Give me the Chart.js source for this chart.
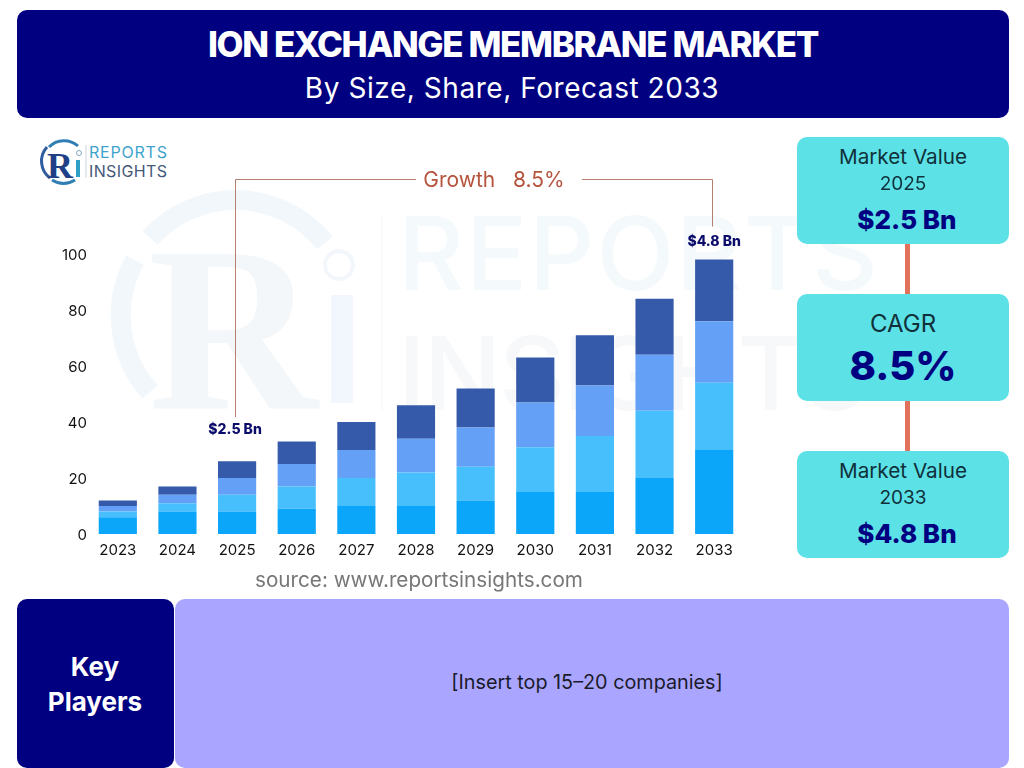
<!DOCTYPE html>
<html><head><meta charset="utf-8">
<script src="https://cdn.jsdelivr.net/npm/chart.js@4"></script>
<style>
html,body{margin:0;padding:0;background:#fff;width:1024px;height:768px;overflow:hidden;font-family:Inter,sans-serif}
.a{position:absolute}
.t{position:absolute;white-space:nowrap;text-align:center;transform:translate(-50%,-50%)}
.card{position:absolute;left:797px;width:212px;height:107px;background:#5CE1E6;border-radius:10px}
.conn{position:absolute;left:905px;width:5px;background:#E2725B}
canvas{position:absolute;left:0;top:130px}
</style></head><body>
<svg class="a" style="left:0;top:0" width="1024" height="768">
  <g fill="none" stroke="#F2F7FB" stroke-width="20">
    <path d="M150 392 A115 115 0 0 1 135 260"/>
    <path d="M150 238 A115 115 0 0 1 325 243"/>
  </g>
  <text x="148" y="408" font-family="Liberation Serif" font-size="235" font-weight="700" fill="#F4F7FA">R</text>
  <rect x="331" y="295" width="22" height="108" fill="#F1F7FC"/>
  <circle cx="339" cy="265" r="14" fill="none" stroke="#F3F7FB" stroke-width="4"/>
  <rect x="381" y="215" width="2" height="195" fill="#F7F9FB"/>
  <text x="398" y="290" font-family="Inter" font-size="102" font-weight="500" fill="#F4F9FC" textLength="480">REPORTS</text>
  <text x="398" y="410" font-family="Inter" font-size="102" font-weight="500" fill="#F6F8FA" textLength="470">INSIGHTS</text>
  <g fill="none" stroke-width="3">
    <path d="M50 178 A21 21 0 0 1 47 147" stroke="#2F5C9E"/>
    <path d="M49 147 A21 21 0 0 1 78 146" stroke="#2F7FB5"/>
    <path d="M52 180 A21 21 0 0 0 75 180" stroke="#2F7FB5"/>
  </g>
  <text x="47" y="178" font-family="Liberation Serif" font-size="36" font-weight="700" fill="#1F3F86">R</text>
  <rect x="76" y="160" width="4" height="17" fill="#2F9FC4"/>
  <circle cx="79" cy="153" r="2.5" fill="none" stroke="#7FA8C0" stroke-width="1"/>
  <rect x="85.5" y="145" width="1" height="33" fill="#C9D6E0"/>
  <text x="89" y="158" font-family="Inter" font-size="16" fill="#3FA3CC" textLength="78">REPORTS</text>
  <text x="89" y="177" font-family="Inter" font-size="16" fill="#46587A" textLength="78">INSIGHTS</text>
</svg>

<div class="a" style="left:17px;top:10px;width:992px;height:108px;background:#000080;border-radius:10px"></div>
<div class="t" style="left:513px;top:44px;color:#fff;font-size:35px;font-weight:800;letter-spacing:-1.4px">ION EXCHANGE MEMBRANE MARKET</div>
<div class="t" style="left:512px;top:88px;color:#fff;font-size:28px;font-weight:400;letter-spacing:.55px">By Size, Share, Forecast 2033</div>

<canvas id="c" width="790" height="465" style="width:790px;height:465px"></canvas>

<div class="t" style="left:419px;top:579px;color:#777;font-size:20.7px">source: www.reportsinsights.com</div>
<div class="t" style="left:494px;top:179px;color:#B5533C;font-size:21px;white-space:pre">Growth   8.5%</div>

<div class="conn" style="top:244px;height:50px"></div>
<div class="conn" style="top:401px;height:50px"></div>
<div class="card" style="top:137px"></div>
<div class="card" style="top:294px"></div>
<div class="card" style="top:451px"></div>
<div class="t" style="left:903px;top:156px;font-size:20.7px;color:#10303a">Market Value</div>
<div class="t" style="left:903px;top:183px;font-size:19px;color:#10303a">2025</div>
<div class="t" style="left:907px;top:219px;font-size:26px;font-weight:800;color:#000080">$2.5 Bn</div>
<div class="t" style="left:903px;top:323px;font-size:24px;color:#10303a">CAGR</div>
<div class="t" style="left:903px;top:365px;font-size:40px;font-weight:800;color:#000080">8.5%</div>
<div class="t" style="left:903px;top:470px;font-size:20.7px;color:#10303a">Market Value</div>
<div class="t" style="left:903px;top:497px;font-size:19px;color:#10303a">2033</div>
<div class="t" style="left:907px;top:533px;font-size:26px;font-weight:800;color:#000080">$4.8 Bn</div>

<div class="a" style="left:175px;top:599px;width:834px;height:169px;background:#AAA6FF;border-radius:10px"></div>
<div class="a" style="left:17px;top:599px;width:157px;height:169px;background:#000080;border-radius:10px"></div>
<div class="t" style="left:95px;top:684px;color:#fff;font-size:26px;font-weight:700;line-height:35px">Key<br>Players</div>
<div class="t" style="left:587px;top:682px;color:#1a1a2a;font-size:19.8px">[Insert top 15–20 companies]</div>

<script>
const years = ['2023','2024','2025','2026','2027','2028','2029','2030','2031','2032','2033'];
const seriesA = [6,8,8,9,10,10,12,15,15,20,30];
const seriesB = [2,3,6,8,10,12,12,16,20,24,24];
const seriesC = [2,3,6,8,10,12,14,16,18,20,22];
const seriesD = [2,3,6,8,10,12,14,16,18,20,22];
const seriesColors = ['#0BA5F9','#48BFFD','#64A0F6','#355AA9'];
const startYear = '2025', endYear = '2033';
const startLabel = '$2.5 Bn', endLabel = '$4.8 Bn';

const growthPlugin = {
  id:'growth',
  afterDatasetsDraw(ch){
    const {ctx,scales:{x,y}} = ch;
    const total = i => seriesA[i]+seriesB[i]+seriesC[i]+seriesD[i];
    const xs = x.getPixelForValue(years.indexOf(startYear));
    const xe = x.getPixelForValue(years.indexOf(endYear));
    const ys = y.getPixelForValue(total(years.indexOf(startYear)));
    const ye = y.getPixelForValue(total(years.indexOf(endYear)));
    const lineTop = 49.5;
    ctx.save();
    ctx.strokeStyle='#B5806F'; ctx.lineWidth=1;
    ctx.beginPath();
    ctx.moveTo(Math.round(xs)-1.5,ys-44); ctx.lineTo(Math.round(xs)-1.5,lineTop); ctx.lineTo(416,lineTop);
    ctx.moveTo(582,lineTop); ctx.lineTo(Math.round(xe)-1.5,lineTop); ctx.lineTo(Math.round(xe)-1.5,ye-33);
    ctx.stroke();
    ctx.fillStyle='#0B0B6B'; ctx.font='800 14px Inter'; ctx.textAlign='center'; ctx.textBaseline='middle';
    ctx.fillText(startLabel,xs-2,ys-31);
    ctx.fillText(endLabel,xe,ye-18);
    ctx.restore();
  }
};

new Chart(document.getElementById('c'),{
  type:'bar',
  data:{labels:years,datasets:[seriesA,seriesB,seriesC,seriesD].map((d,i)=>({
    label:'S'+(i+1),data:d,backgroundColor:seriesColors[i],borderWidth:0,
    barPercentage:0.8,categoryPercentage:0.8
  }))},
  options:{
    responsive:false,animation:false,
    layout:{padding:{top:124,right:46,bottom:31,left:0}},
    plugins:{legend:{display:false},tooltip:{enabled:false}},
    scales:{
      x:{stacked:true,grid:{display:false,drawTicks:false},border:{display:false},
         ticks:{color:'#111',font:{family:'Inter',size:15},padding:7,maxRotation:0,autoSkip:false},
         afterFit(s){s.height=30}},
      y:{stacked:true,min:0,max:100,grid:{display:false,drawTicks:false},border:{display:false},
         ticks:{stepSize:20,color:'#111',font:{family:'Inter',size:15},padding:1,labelOffset:1.5},
         afterFit(s){s.width=88}}
    }
  },
  plugins:[growthPlugin]
});
</script>
</body></html>
